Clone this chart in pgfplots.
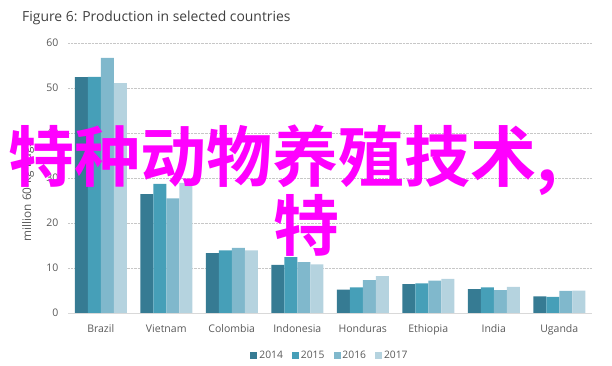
\documentclass[border=0pt]{standalone}
\usepackage{pgfplots}
\pgfplotsset{compat=1.18}
\usepackage{pgfplotstable}
\usepackage{fontspec}
\setmainfont{Open Sans}
\newfontfamily\cjk{Noto Sans CJK SC Bold}
\definecolor{cA}{HTML}{367B93}
\definecolor{cB}{HTML}{469FB8}
\definecolor{cC}{HTML}{80B8CC}
\definecolor{cD}{HTML}{B5D3DF}
\definecolor{tgray}{HTML}{595959}
\definecolor{ttl}{HTML}{404040}
\definecolor{wm}{HTML}{FF00FF}
\pgfplotstableread{
x y14 y15 y16 y17
0 52.4 52.5 56.7 51.1
1 26.4 28.7 25.5 28.9
2 13.3 13.9 14.5 13.9
3 10.7 12.4 11.3 10.8
4 5.2 5.7 7.3 8.2
5 6.4 6.6 7.2 7.6
6 5.3 5.7 5.1 5.8
7 3.7 3.6 4.9 5.0
}\data
\begin{document}
\begin{tikzpicture}
\path[use as bounding box] (0,0) rectangle (612bp,366bp);
\node[anchor=base west, inner sep=0, font=\fontsize{13.9bp}{16bp}\selectfont, text=ttl] at (22bp,344bp) {Figure 6: Production in selected countries};
\begin{axis}[
  at={(68bp,53bp)}, anchor=south west,
  scale only axis, width=524bp, height=270bp,
  xmin=-0.5, xmax=7.5, ymin=0, ymax=60,
  ybar=0pt, bar width=13bp,
  xtick=data,
  xticklabels={Brazil,Vietnam,Colombia,Indonesia,Honduras,Ethiopia,India,Uganda},
  ytick={0,10,20,30,40,50,60},
  axis x line*=bottom, axis y line*=left,
  x axis line style={draw=black!15, line width=0.8pt},
  y axis line style={draw=none},
  tick style={draw=none},
  ymajorgrids, major grid style={densely dotted, draw=black!22, line width=0.6pt},
  /pgf/number format/assume math mode=true,
  tick label style={font=\fontsize{10.5bp}{12bp}\selectfont, text=tgray},
  yticklabel style={xshift=-6bp},
  xticklabel style={yshift=-4bp},
  ylabel={\fontsize{11.8bp}{13bp}\selectfont million 60-kg bags},
  ylabel style={at={(axis description cs:-0.076,0.45)}, anchor=center, text=tgray},
  legend columns=4,
  legend style={at={(0.5,-0.158)}, anchor=center, draw=none, fill=none,
    font=\fontsize{10.3bp}{12bp}\selectfont, text=tgray,
    /tikz/every even column/.append style={column sep=7bp}},
  legend image code/.code={\path[#1] (0bp,-3.5bp) rectangle (7bp,3.5bp);},
]
\addplot[fill=cA, draw=none] table[x=x, y=y14] {\data};
\addplot[fill=cB, draw=none] table[x=x, y=y15] {\data};
\addplot[fill=cC, draw=none] table[x=x, y=y16] {\data};
\addplot[fill=cD, draw=none] table[x=x, y=y17] {\data};
\legend{2014,2015,2016,2017}
\end{axis}
\node[anchor=west, inner sep=0, font=\cjk\fontsize{66bp}{70bp}\selectfont, text=wm] at (8bp,206bp) {特种动物养殖技术,};
\node[anchor=center, inner sep=0, font=\cjk\fontsize{66bp}{70bp}\selectfont, text=wm] at (306bp,141bp) {特};
\end{tikzpicture}
\end{document}
